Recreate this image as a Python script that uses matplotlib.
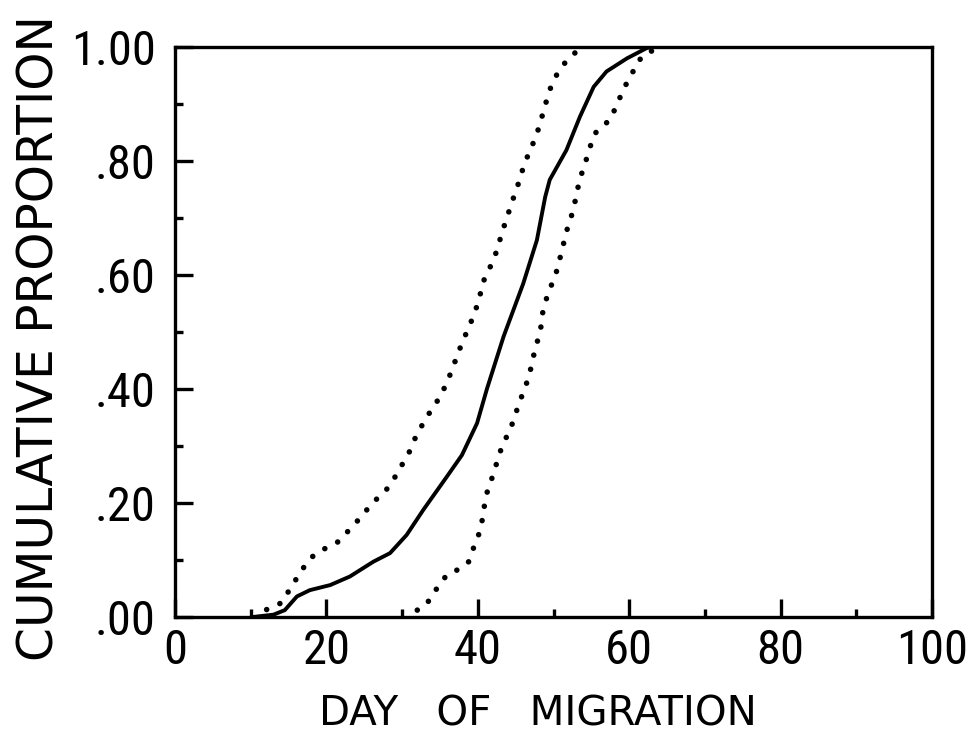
import matplotlib
matplotlib.use('Agg')
import matplotlib.pyplot as plt
from matplotlib import font_manager
from matplotlib.ticker import MultipleLocator

#Curve values
median_day = [10.3, 13.0, 14.5, 16.1, 17.8, 20.5, 23.1, 26.2, 28.4, 30.6, 32.8, 35.9, 37.9, 39.9,
              41.2, 43.4, 46.0, 47.8, 48.9, 49.5, 51.7, 53.5, 55.3, 57.0, 59.7, 62.3, 63.0]
median_prop = [0.0, 0.004, 0.012, 0.036, 0.047, 0.056, 0.071, 0.097, 0.112, 0.144, 0.188, 0.246, 0.284, 0.340,
               0.400, 0.492, 0.585, 0.661, 0.737, 0.767, 0.819, 0.878, 0.930, 0.957, 0.980, 0.998, 1.0]

upper_day = [12.1, 13.1, 14.1, 14.8, 15.5, 16.2, 16.9, 17.8, 19.1, 20.7, 21.9, 23.0, 24.2, 25.4, 26.4, 27.8,
             28.9, 29.9, 30.9, 31.7, 32.7, 33.7, 35.1, 36.1, 36.9, 37.6, 38.5, 39.4, 40.2, 40.6, 41.6, 42.5,
             43.1, 43.6, 44.1, 44.8, 45.4, 45.9, 46.5, 47.3, 48.0, 48.5, 49.1, 49.7, 50.6, 51.9, 53.4]
upper_prop = [0.013, 0.019, 0.025, 0.041, 0.055, 0.071, 0.085, 0.102, 0.116, 0.125, 0.135, 0.153, 0.170, 0.189,
              0.204, 0.221, 0.242, 0.265, 0.288, 0.313, 0.338, 0.360, 0.388, 0.417, 0.445, 0.470, 0.499, 0.527,
              0.558, 0.585, 0.613, 0.642, 0.670, 0.691, 0.711, 0.739, 0.762, 0.784, 0.806, 0.831, 0.856, 0.879,
              0.907, 0.932, 0.956, 0.979, 0.996]

lower_day = [32.0, 33.0, 34.1, 35.0, 36.2, 37.6, 38.8, 39.4, 40.1, 40.6, 40.9, 41.3, 42.1, 42.7, 43.3, 44.1,
             44.7, 45.3, 46.1, 46.8, 47.2, 47.7, 48.3, 48.5, 49.0, 49.8, 50.5, 50.9, 51.4, 51.8, 52.4, 52.9,
             53.2, 53.6, 54.1, 54.7, 55.3, 56.6, 57.5, 58.1, 58.8, 59.4, 60.4, 61.1, 62.5, 63.7, 64.8]
lower_prop = [0.012, 0.019, 0.039, 0.060, 0.077, 0.084, 0.097, 0.120, 0.144, 0.171, 0.198, 0.223, 0.252, 0.280,
              0.303, 0.324, 0.344, 0.369, 0.398, 0.423, 0.450, 0.475, 0.505, 0.530, 0.556, 0.585, 0.610, 0.632,
              0.659, 0.680, 0.705, 0.732, 0.752, 0.773, 0.793, 0.818, 0.846, 0.863, 0.872, 0.891, 0.912, 0.930,
              0.954, 0.974, 0.992, 0.994, 0.998]

x_ticks = [0, 20, 40, 60, 80, 100]
y_ticks = [0.0, 0.2, 0.4, 0.6, 0.8, 1.0]
y_labels = ['.00', '.20', '.40', '.60', '.80', '1.00']

#Pick a narrow face for the digits if one is there
installed = {f.name for f in font_manager.fontManager.ttflist}
if 'Roboto Condensed' in installed:
    tick_font, tick_size = 'Roboto Condensed', 35
elif 'Liberation Sans Narrow' in installed:
    tick_font, tick_size = 'Liberation Sans Narrow', 36
else:
    tick_font, tick_size = 'Liberation Sans', 30

fig = plt.figure(figsize=(9.79, 7.42), dpi=100)
ax = fig.add_axes([0.1788, 0.1685, 0.7732, 0.7682])

#Median curve and the two dotted bounds
ax.plot(median_day, median_prop, color='black', lw=2.8, solid_capstyle='round')
dots = dict(color='black', lw=4.0, linestyle=(0, (0.01, 2.6)), dash_capstyle='round')
ax.plot(upper_day, upper_prop, **dots)
ax.plot(lower_day, lower_prop, **dots)

ax.set_xlim(0, 100)
ax.set_ylim(0, 1)
ax.set_xticks(x_ticks)
ax.set_xticklabels([str(v) for v in x_ticks])
ax.set_yticks(y_ticks)
ax.set_yticklabels(y_labels)
ax.xaxis.set_minor_locator(MultipleLocator(10))
ax.yaxis.set_minor_locator(MultipleLocator(0.1))

for s in ax.spines.values():
    s.set_linewidth(2.4)
ax.tick_params(which='both', direction='in', width=2.4, top=False, right=False)
ax.tick_params(which='major', length=13)
ax.tick_params(which='minor', length=6)
ax.tick_params(axis='y', which='major', pad=14)
ax.tick_params(axis='x', which='major', pad=8)

for lab in ax.get_xticklabels() + ax.get_yticklabels():
    lab.set_family([tick_font, 'DejaVu Sans'])
    lab.set_fontsize(tick_size)

ax.set_xlabel('DAY   OF   MIGRATION', fontsize=29, family='DejaVu Sans')
ax.xaxis.set_label_coords(0.479, -0.136)
ax.set_ylabel('CUMULATIVE PROPORTION', fontsize=35, family='DejaVu Sans')
ax.yaxis.set_label_coords(-0.148, 0.49)

fig.savefig('out.png', dpi=100)
